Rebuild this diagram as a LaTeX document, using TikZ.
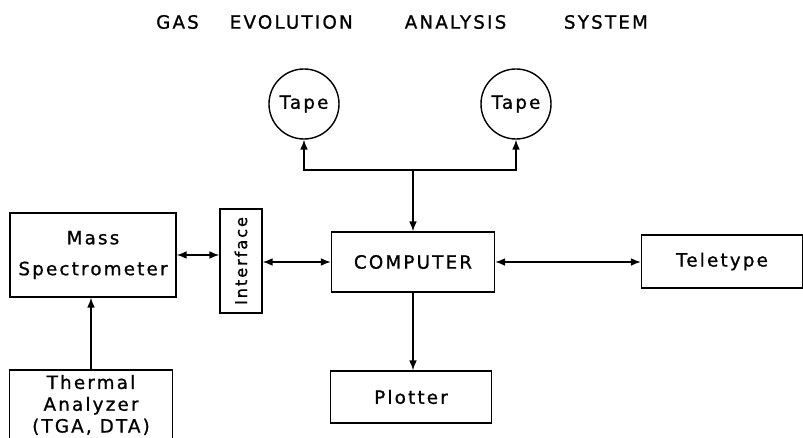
\documentclass[tikz,border=0pt]{standalone}
\usepackage{fontspec}
\setmainfont{DejaVu Sans}[LetterSpace=12,FakeBold=1]
\usetikzlibrary{arrows.meta}

\begin{document}
\begin{tikzpicture}[x=0.025cm,y=-0.025cm,line width=1pt,
  >={Latex[length=7pt,width=5.5pt]},
  font=\fontsize{13}{15}\selectfont,
  box/.style={draw,align=center,inner sep=0pt},
  tape/.style={draw,circle,minimum size=1.75cm,inner sep=0pt}]
  \clip (0,0) rectangle (803,438);
  \node (title) at (402,22) {GAS\hspace{22pt}EVOLUTION\hspace{37pt}ANALYSIS\hspace{41pt}SYSTEM};
  % tapes
  \node[tape] (tapeL) at (304,104) {Tape};
  \node[tape] (tapeR) at (516,104) {Tape};
  \coordinate (bus) at (413,170);
  % blocks
  \node[box,minimum width=4.15cm,minimum height=2.1cm,font=\fontsize{13}{22}\selectfont] (mass) at (93,255) {Mass\\Spectrometer};
  \node[box,minimum width=1.05cm,minimum height=2.6cm,font=\fontsize{11.5}{14}\selectfont] (iface) at (241,261) {\rotatebox{90}{Interface}};
  \node[box,minimum width=4.075cm,minimum height=1.5cm] (comp) at (413,262) {COMPUTER};
  \node[box,minimum width=4.025cm,minimum height=1.325cm] (tele) at (722,261.5) {Teletype};
  \node[box,minimum width=4.025cm,minimum height=1.3cm] (plot) at (411,397) {Plotter};
  \node[box,minimum width=4.075cm,minimum height=1.75cm,font=\fontsize{13}{15.5}\selectfont] (therm) at (91,405) {Thermal\\Analyzer\\(TGA, DTA)};
  % connections
  \draw[<->] (tapeL.south) |- (bus) -| (tapeR.south);
  \draw[->] (bus) -- (comp.north);
  \draw[<->] (mass.east) -- (mass.east -| iface.west);
  \draw[<->] (iface.east |- comp.west) -- (comp.west);
  \draw[<->] (comp.east) -- (comp.east -| tele.west);
  \draw[->] (comp.south) -- (comp.south |- plot.north);
  \draw[->] (therm.north) -- (therm.north |- mass.south);
\end{tikzpicture}
\end{document}
